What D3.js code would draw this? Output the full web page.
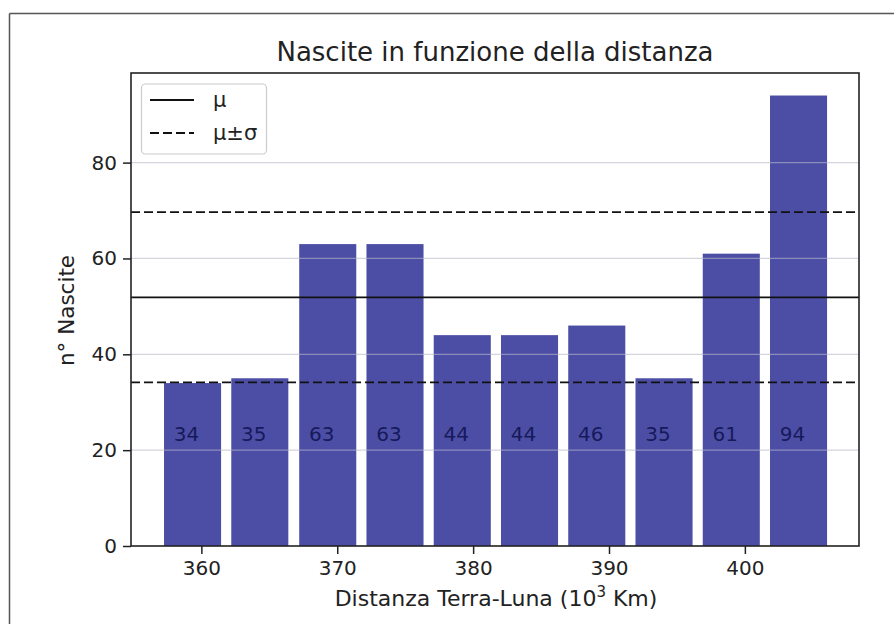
<!DOCTYPE html>
<html><head><meta charset="utf-8">
<script src="https://cdn.jsdelivr.net/npm/d3@7/dist/d3.min.js"></script>
<style>body{margin:0;background:#fff}text{font-family:"DejaVu Sans",sans-serif}</style>
</head><body><svg id="c" width="894" height="624"></svg>
<script>
const binCenters = [359.35, 364.3, 369.3, 374.25, 379.2, 384.15, 389.1, 394.05, 399.0, 403.95];
const births = [34, 35, 63, 63, 44, 44, 46, 35, 61, 94];
const xTicks = [360, 370, 380, 390, 400];
const yTicks = [0, 20, 40, 60, 80];
const barWidth = 4.2;
const title = "Nascite in funzione della distanza";

const svg = d3.select("#c");
const L = 131, R = 859, T = 73, B = 546;
const x = d3.scaleLinear().domain([354.82, 408.4]).range([L, R]);
const y = d3.scaleLinear().domain([0, 98.7]).range([B, T]);

// outer frame
svg.append("line").attr("x1",9.5).attr("x2",9.5).attr("y1",13.5).attr("y2",624).attr("stroke","#555").attr("stroke-width",1.5);
svg.append("line").attr("x1",9.5).attr("x2",894).attr("y1",13.5).attr("y2",13.5).attr("stroke","#555").attr("stroke-width",1.5);

const mean = d3.mean(births);
const sd = Math.sqrt(d3.mean(births, d => (d - mean) ** 2));

const data = births.map((v, i) => ({c: binCenters[i], v}));
svg.append("g").selectAll("rect").data(data).join("rect")
  .attr("x", d => x(d.c - barWidth/2)).attr("width", d => x(d.c + barWidth/2) - x(d.c - barWidth/2))
  .attr("y", d => y(d.v)).attr("height", d => y(0) - y(d.v))
  .attr("fill", "#4c4ea6");
svg.append("g").selectAll("text").data(data).join("text")
  .attr("x", d => x(d.c - barWidth/2 + 0.72)).attr("y", y(22))
  .attr("font-size", 20).attr("fill", "#161a5a").text(d => d.v);

// grid
svg.append("g").selectAll("line").data(yTicks.slice(1)).join("line")
  .attr("x1", L).attr("x2", R).attr("y1", d => y(d)).attr("y2", d => y(d))
  .attr("stroke", "#b8b8c8").attr("stroke-opacity", 0.6).attr("stroke-width", 1.2);

// mean lines
svg.append("line").attr("x1", L).attr("x2", R).attr("y1", y(mean)).attr("y2", y(mean))
  .attr("stroke", "#111").attr("stroke-width", 1.8);
[mean + sd, mean - sd].forEach(v => {
  svg.append("line").attr("x1", L).attr("x2", R).attr("y1", y(v)).attr("y2", y(v))
    .attr("stroke", "#111").attr("stroke-width", 1.8).attr("stroke-dasharray", "9,4");
});

// axes
const xAxis = svg.append("g").attr("transform", `translate(0,${B})`)
  .call(d3.axisBottom(x).tickValues(xTicks).tickSize(8).tickPadding(7).tickFormat(d3.format("d")));
const yAxis = svg.append("g").attr("transform", `translate(${L},0)`)
  .call(d3.axisLeft(y).tickValues(yTicks).tickSize(8).tickPadding(6).tickFormat(d3.format("d")));
[xAxis, yAxis].forEach(a => {
  a.select(".domain").remove();
  a.selectAll(".tick line").attr("stroke", "#222").attr("stroke-width", 1.5);
  a.selectAll(".tick text").attr("font-size", 20).attr("fill", "#222").attr("font-family", "DejaVu Sans");
});
svg.append("rect").attr("x", L).attr("y", T).attr("width", R - L).attr("height", B - T)
  .attr("fill", "none").attr("stroke", "#222").attr("stroke-width", 1.6);

// title & labels
svg.append("text").attr("x", (L + R) / 2).attr("y", 61).attr("text-anchor", "middle")
  .attr("font-size", 26).attr("fill", "#222").text(title);
const xl = svg.append("text").attr("x", (L + R) / 2 + 1).attr("y", 606).attr("text-anchor", "middle")
  .attr("font-size", 22).attr("fill", "#222");
xl.append("tspan").text("Distanza Terra-Luna (10");
xl.append("tspan").attr("font-size", 15).attr("dy", -9).text("3");
xl.append("tspan").attr("dy", 9).text(" Km)");
svg.append("text").attr("transform", `translate(74,${(T + B) / 2 + 1}) rotate(-90)`).attr("text-anchor", "middle")
  .attr("font-size", 21.5).attr("fill", "#222").text("n° Nascite");

// legend
const lg = svg.append("g");
lg.append("rect").attr("x", 141.5).attr("y", 84).attr("width", 125).attr("height", 70).attr("rx", 4)
  .attr("fill", "#fff").attr("fill-opacity", 0.85).attr("stroke", "#ccc").attr("stroke-width", 1.2);
const legendItems = [{label: "μ", dash: null}, {label: "μ±σ", dash: "9,4"}];
legendItems.forEach((d, i) => {
  const yy = 100 + i * 33;
  lg.append("line").attr("x1", 150).attr("x2", 194).attr("y1", yy).attr("y2", yy)
    .attr("stroke", "#111").attr("stroke-width", 1.8).attr("stroke-dasharray", d.dash);
  lg.append("text").attr("x", 213).attr("y", yy + 7).attr("font-size", 21).attr("fill", "#222").text(d.label);
});
</script></body></html>
